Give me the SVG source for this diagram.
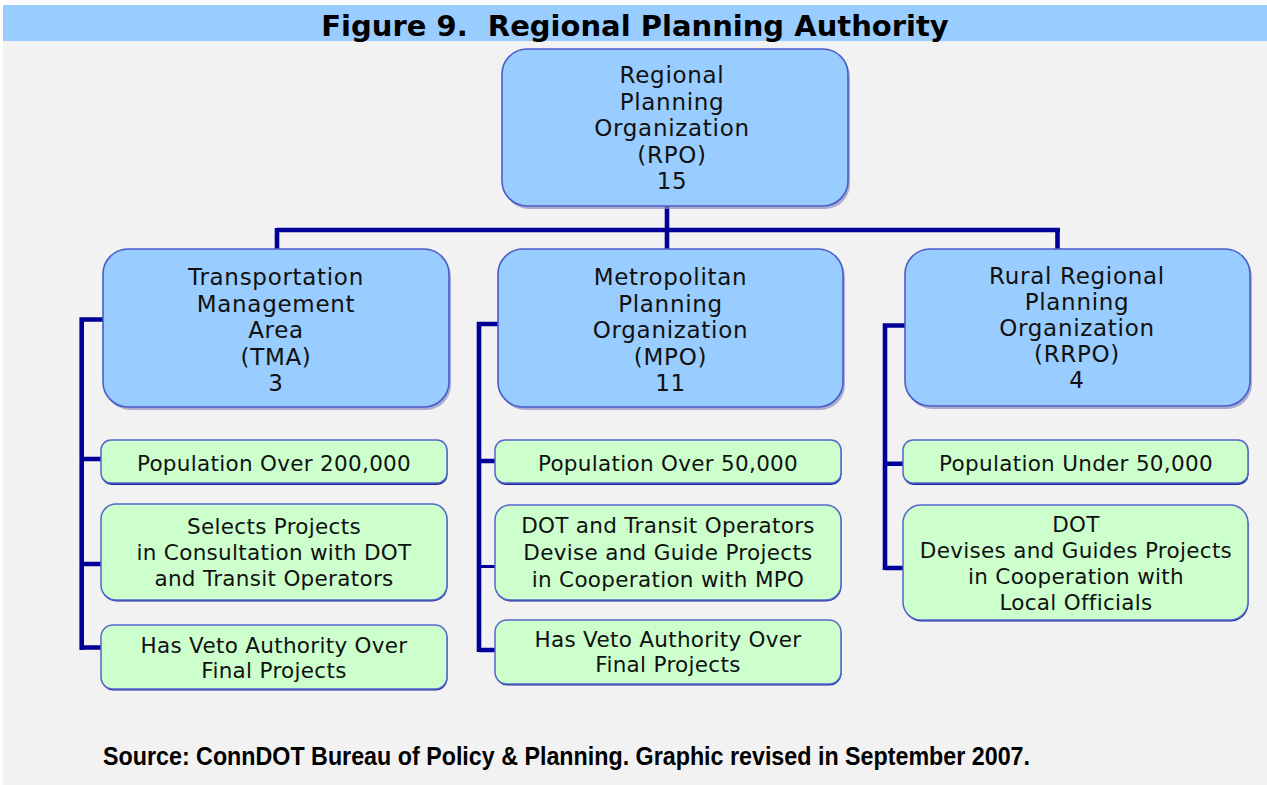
<svg xmlns="http://www.w3.org/2000/svg" width="1267" height="785" viewBox="0 0 1267 785">
<style>
.bg{fill:#f2f2f2}
.band{fill:#99ccff}
.title{font-family:"DejaVu Sans",Verdana,sans-serif;font-weight:bold;font-size:29px;fill:#000;white-space:pre}
.blue{fill:#99ccff;stroke:#4a5ccc;stroke-width:1.6}
.blueSh{fill:#8f8fbf;opacity:0.7}
.green{fill:#ccffcc;stroke:#5566cc;stroke-width:1.5}
.greenSh{fill:#1c2a99}
.bt{font-family:"DejaVu Sans",Verdana,sans-serif;font-size:23px;letter-spacing:0.7px;fill:#111;text-anchor:middle}
.gt{font-family:"DejaVu Sans",Verdana,sans-serif;font-size:21.5px;letter-spacing:0.3px;fill:#111;text-anchor:middle}
.conn{fill:none;stroke:#000099;stroke-width:4.6;stroke-linejoin:miter;stroke-linecap:butt}
.src{font-family:"Liberation Sans",Arial,sans-serif;font-weight:bold;font-size:26px;fill:#000}
</style>
<rect x="0" y="0" width="1267" height="785" fill="#ffffff"/>
<rect class="bg" x="3" y="41" width="1264" height="744"/>
<rect class="band" x="3" y="5" width="1264" height="36"/>
<text class="title" x="635" y="36" text-anchor="middle">Figure 9.  Regional Planning Authority</text>

<g id="connectors">
  <path class="conn" d="M667,206 V250 M277,230 H1060 M277,228 V250 M1057.5,228 V250"/>
  <path class="conn" d="M103,319.5 H81.7 V650 M81.7,459 H101 M81.7,564 H101 M81.7,647.5 H101"/>
  <path class="conn" d="M498,324 H479 V652 M479,461 H495 M479,650 H495"/>
  <path class="conn" d="M479,566.5 H495" style="stroke-width:3"/>
  <path class="conn" d="M905,325.5 H885 V570 M885,463.7 H903 M885,568 H903"/>
</g>

<g id="rpo">
  <rect class="blueSh" x="504" y="52" width="346" height="157" rx="25"/>
  <rect class="blue" x="502" y="49" width="346" height="157" rx="25"/>
  <text class="bt" x="672"><tspan x="672" y="83">Regional</tspan><tspan x="672" y="109.5">Planning</tspan><tspan x="672" y="136">Organization</tspan><tspan x="672" y="162.5">(RPO)</tspan><tspan x="672" y="189">15</tspan></text>
</g>

<g id="tma">
  <rect class="blueSh" x="105" y="252" width="346" height="158" rx="25"/>
  <rect class="blue" x="103" y="249" width="346" height="158" rx="25"/>
  <text class="bt"><tspan x="276" y="285">Transportation</tspan><tspan x="276" y="311.5">Management</tspan><tspan x="276" y="338">Area</tspan><tspan x="276" y="364.5">(TMA)</tspan><tspan x="276" y="391">3</tspan></text>
</g>

<g id="mpo">
  <rect class="blueSh" x="500" y="252" width="345" height="158" rx="25"/>
  <rect class="blue" x="498" y="249" width="345" height="158" rx="25"/>
  <text class="bt"><tspan x="670.5" y="285">Metropolitan</tspan><tspan x="670.5" y="311.5">Planning</tspan><tspan x="670.5" y="338">Organization</tspan><tspan x="670.5" y="364.5">(MPO)</tspan><tspan x="670.5" y="391">11</tspan></text>
</g>

<g id="rrpo">
  <rect class="blueSh" x="907" y="252" width="345" height="157" rx="25"/>
  <rect class="blue" x="905" y="249" width="345" height="157" rx="25"/>
  <text class="bt"><tspan x="1077" y="284">Rural Regional</tspan><tspan x="1077" y="310">Planning</tspan><tspan x="1077" y="336">Organization</tspan><tspan x="1077" y="362">(RRPO)</tspan><tspan x="1077" y="388">4</tspan></text>
</g>

<g id="tma-pop">
  <rect class="greenSh" x="101.5" y="441.5" width="346" height="43.5" rx="10"/>
  <rect class="green" x="101" y="440" width="346" height="43" rx="10"/>
  <text class="gt" x="274" y="471">Population Over 200,000</text>
</g>
<g id="tma-select">
  <rect class="greenSh" x="101.5" y="505.5" width="346" height="96" rx="15"/>
  <rect class="green" x="101" y="504" width="346" height="96" rx="15"/>
  <text class="gt"><tspan x="274" y="534">Selects Projects</tspan><tspan x="274" y="560">in Consultation with DOT</tspan><tspan x="274" y="586">and Transit Operators</tspan></text>
</g>
<g id="tma-veto">
  <rect class="greenSh" x="101.5" y="626.5" width="346" height="64" rx="12"/>
  <rect class="green" x="101" y="625" width="346" height="64" rx="12"/>
  <text class="gt"><tspan x="274" y="653">Has Veto Authority Over</tspan><tspan x="274" y="678">Final Projects</tspan></text>
</g>

<g id="mpo-pop">
  <rect class="greenSh" x="495.5" y="441.5" width="346" height="43.5" rx="10"/>
  <rect class="green" x="495" y="440" width="346" height="43" rx="10"/>
  <text class="gt" x="668" y="471">Population Over 50,000</text>
</g>
<g id="mpo-dot">
  <rect class="greenSh" x="495.5" y="506.5" width="346" height="95" rx="15"/>
  <rect class="green" x="495" y="505" width="346" height="95" rx="15"/>
  <text class="gt"><tspan x="668" y="533">DOT and Transit Operators</tspan><tspan x="668" y="560">Devise and Guide Projects</tspan><tspan x="668" y="587">in Cooperation with MPO</tspan></text>
</g>
<g id="mpo-veto">
  <rect class="greenSh" x="495.5" y="621.5" width="346" height="64" rx="12"/>
  <rect class="green" x="495" y="620" width="346" height="64" rx="12"/>
  <text class="gt"><tspan x="668" y="647">Has Veto Authority Over</tspan><tspan x="668" y="672">Final Projects</tspan></text>
</g>

<g id="rrpo-pop">
  <rect class="greenSh" x="903.5" y="441.5" width="345" height="43.5" rx="10"/>
  <rect class="green" x="903" y="440" width="345" height="43" rx="10"/>
  <text class="gt" x="1076" y="471">Population Under 50,000</text>
</g>
<g id="rrpo-dot">
  <rect class="greenSh" x="903.5" y="506.5" width="345" height="115" rx="18"/>
  <rect class="green" x="903" y="505" width="345" height="115" rx="18"/>
  <text class="gt"><tspan x="1076" y="532">DOT</tspan><tspan x="1076" y="558">Devises and Guides Projects</tspan><tspan x="1076" y="584">in Cooperation with</tspan><tspan x="1076" y="610">Local Officials</tspan></text>
</g>

<text class="src" x="103" y="765" textLength="927" lengthAdjust="spacingAndGlyphs">Source: ConnDOT Bureau of Policy &amp; Planning. Graphic revised in September 2007.</text>
</svg>
